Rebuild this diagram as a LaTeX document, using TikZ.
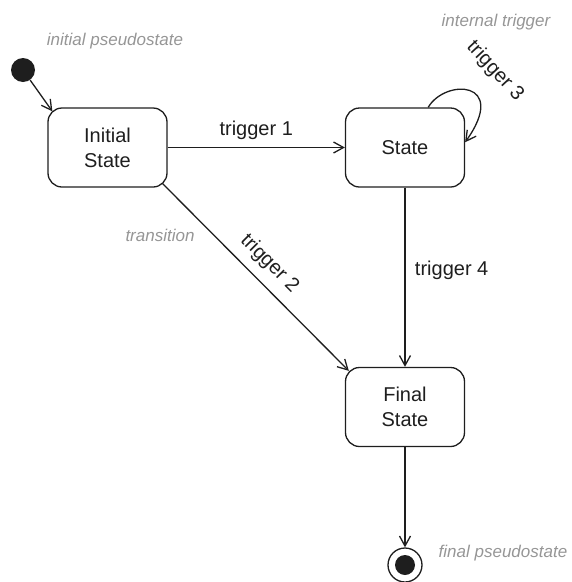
\documentclass[tikz,border=0pt]{standalone}
\usepackage{fontspec}
\setmainfont{Liberation Sans}
\usepackage{tikz}
\usetikzlibrary{arrows.meta, calc}
\definecolor{inkdark}{HTML}{1E1E1E}
\definecolor{notegray}{HTML}{969696}
\tikzset{
  statebox/.style={rectangle, rounded corners=14pt, draw=inkdark, line width=1.3pt, minimum width=119pt, minimum height=79pt, align=center, text=inkdark, font=\fontsize{20}{25}\selectfont},
  pseudo/.style={circle, fill=inkdark, inner sep=0pt, minimum size=#1},
  endring/.style={circle, draw=inkdark, line width=1.3pt, inner sep=0pt, minimum size=34pt},
  trans/.style={-{Straight Barb[length=10pt, width=11pt, line width=1.3pt]}, line width=1.3pt, inkdark},
  triglabel/.style={text=inkdark, font=\fontsize{20}{25}\selectfont},
  note/.style={text=notegray, font=\fontsize{17}{20}\itshape, anchor=base},
}

\begin{document}
\begin{tikzpicture}[x=1pt, y=1pt]
  \useasboundingbox (0,0) rectangle (572,-582);

  % states
  \node[statebox] (istate) at (107.5,-147.5) {Initial\\State};
  \node[statebox] (state) at (405,-147.5) {State};
  \node[statebox] (fstate) at (405,-407) {Final\\State};

  % pseudostates
  \node[pseudo=24pt] (ini) at (23,-70) {};
  \node[endring] (fin) at (405,-565) {};
  \node[pseudo=20pt] (findot) at (405,-565) {};

  % transitions
  \draw[trans] (ini) -- ($(istate.north west)+(5,-4)$);
  \draw[trans] (istate) -- node[triglabel, above=3.5pt] (t1) {trigger 1} (state);
  \draw[trans] ($(istate.south east)+(-5,4)$) -- node[triglabel, sloped, above=6pt] (t2) {trigger 2} ($(fstate.north west)+(4,-4)$);
  \draw[trans] (state.60) .. controls +(17,29) and +(44,62) .. (state.5);
  \draw[trans] (state) -- node[triglabel, pos=0.46, right=6pt] (t4) {trigger 4} (fstate);
  \draw[trans] (fstate) -- (fin);
  \node[triglabel, rotate=-47] (t3) at (495,-71) {trigger 3};

  % notes
  \node[note] (n1) at (115,-45) {initial pseudostate};
  \node[note] (n2) at (496,-26) {internal trigger};
  \node[note] (n3) at (160,-241) {transition};
  \node[note] (n4) at (503,-557) {final pseudostate};
\end{tikzpicture}
\end{document}
